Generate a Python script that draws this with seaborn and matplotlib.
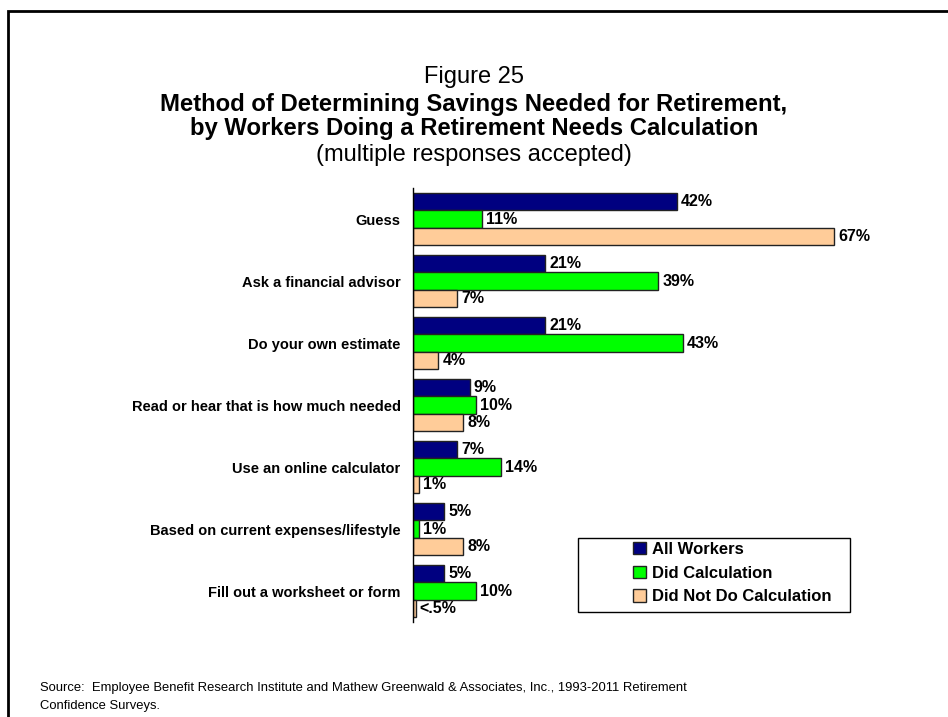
import matplotlib.pyplot as plt
import pandas as pd
import seaborn as sns
from matplotlib.patches import Rectangle

sns.set_theme(style='white')
plt.rcParams['font.family'] = ['Liberation Sans', 'DejaVu Sans']
plt.rcParams['text.color'] = 'black'

methods = ['Guess', 'Ask a financial advisor', 'Do your own estimate',
           'Read or hear that is how much needed', 'Use an online calculator',
           'Based on current expenses/lifestyle', 'Fill out a worksheet or form']
all_workers = [42, 21, 21, 9, 7, 5, 5]
did_calc = [11, 39, 43, 10, 14, 1, 10]
did_not = [67, 7, 4, 8, 1, 8, 0.4]
did_not_labels = ['67%', '7%', '4%', '8%', '1%', '8%', '<.5%']
groups = ['All Workers', 'Did Calculation', 'Did Not Do Calculation']
colors = ['#000080', '#00FF00', '#FFCC99']

df = pd.DataFrame({
    'method': methods * 3,
    'group': [groups[0]] * 7 + [groups[1]] * 7 + [groups[2]] * 7,
    'value': all_workers + did_calc + did_not,
})
labels = [f'{v}%' for v in all_workers] + [f'{v}%' for v in did_calc] + did_not_labels

fig = plt.figure(figsize=(9.48, 7.17), dpi=100)
# outer frame (runs off the right/bottom like the original)
fig.patches.append(Rectangle((8 / 948, -0.1), 1.2, 1 - 11 / 717 + 0.1, transform=fig.transFigure,
                             fill=False, edgecolor='black', linewidth=2))

ax = fig.add_axes([413 / 948, 1 - 622 / 717, (910 - 413) / 948, (622 - 188) / 717])
sns.barplot(data=df, y='method', x='value', hue='group', palette=colors, orient='h',
            width=0.85, saturation=1, edgecolor='#222222', linewidth=1, ax=ax, legend=True)

ax.set_xlim(0, (910 - 413) / 6.28)
ax.set_xlabel('')
ax.set_ylabel('')
ax.set_xticks([])
ax.tick_params(axis='y', length=0, left=False, pad=9)
for lbl in ax.get_yticklabels():
    lbl.set_fontweight('bold')
    lbl.set_fontsize(10.5)
    lbl.set_color('black')
for s in ['top', 'right', 'bottom']:
    ax.spines[s].set_visible(False)
ax.spines['left'].set_color('black')
ax.spines['left'].set_linewidth(1)

k = 0
for cont in ax.containers:
    texts = labels[k:k + len(cont)]
    ax.bar_label(cont, labels=texts, padding=3, fontsize=11.5, fontweight='bold', color='black')
    k += len(cont)

# legend box drawn separately, entries sit off-centre inside it
ax.add_patch(Rectangle(((578 - 413) / 497, (622 - 612) / 434), (850 - 578) / 497, (612 - 538) / 434,
                       transform=ax.transAxes, fill=False, edgecolor='black', linewidth=1,
                       clip_on=False))
leg = ax.legend(loc='upper left', bbox_to_anchor=((633 - 413) / 497, (622 - 542) / 434),
                frameon=False, fontsize=12, handlelength=0.75, handleheight=0.75,
                borderpad=0, labelspacing=0.52, handletextpad=0.4, borderaxespad=0)
for t in leg.get_texts():
    t.set_fontweight('bold')

fig.text(0.5, 1 - 77 / 717, 'Figure 25', ha='center', va='center', fontsize=17)
fig.text(0.5, 1 - 104 / 717, 'Method of Determining Savings Needed for Retirement,',
         ha='center', va='center', fontsize=17.2, fontweight='bold')
fig.text(0.5, 1 - 129 / 717, 'by Workers Doing a Retirement Needs Calculation',
         ha='center', va='center', fontsize=17.2, fontweight='bold')
fig.text(0.5, 1 - 155 / 717, '(multiple responses accepted)', ha='center', va='center', fontsize=17)

fig.text(40 / 948, 1 - 688 / 717,
         'Source:  Employee Benefit Research Institute and Mathew Greenwald & Associates, Inc., 1993-2011 Retirement',
         ha='left', va='center', fontsize=9.4)
fig.text(40 / 948, 1 - 706 / 717, 'Confidence Surveys.', ha='left', va='center', fontsize=9.4)

fig.savefig('out.png', dpi=100, facecolor='white')
